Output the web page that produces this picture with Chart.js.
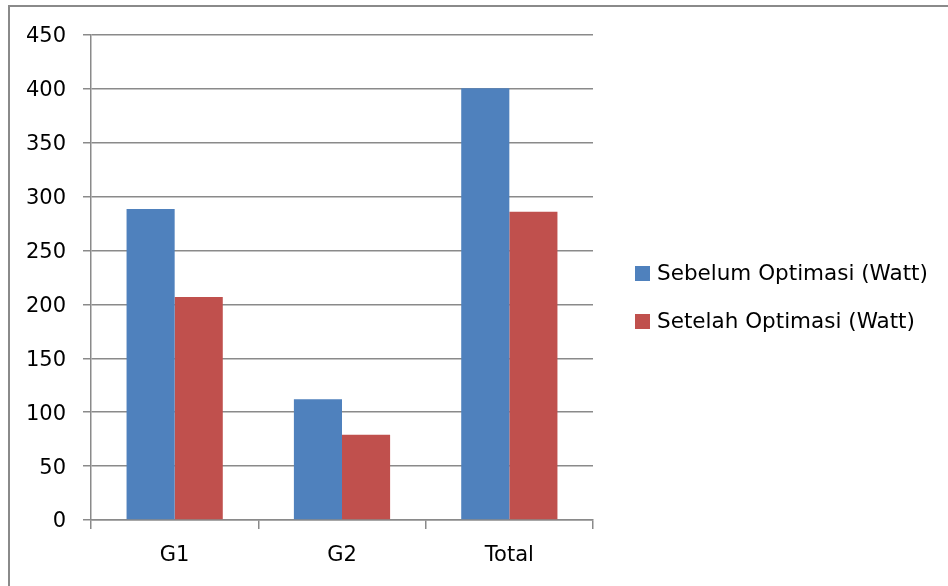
<!DOCTYPE html>
<html>
<head>
<meta charset="utf-8">
<script src="https://cdn.jsdelivr.net/npm/chart.js@4/dist/chart.umd.min.js"></script>
<style>
  html, body { margin: 0; padding: 0; background: #ffffff; }
  #wrap { width: 948px; height: 586px; position: relative; }
</style>
</head>
<body>
<div id="wrap"><canvas id="c" width="948" height="586"></canvas></div>
<script>
// Power consumption per generator, before and after optimisation
const categories = ['G1', 'G2', 'Total'];
const seriesNames = ['Sebelum Optimasi (Watt)', 'Setelah Optimasi (Watt)'];
const sebelum = [288.5, 112, 400.5];
const setelah = [207, 79, 286];
const yTicks = [0, 50, 100, 150, 200, 250, 300, 350, 400, 450];

const colors = ['#4F81BD', '#C0504D'];
const FONT = "'DejaVu Sans', sans-serif";
const FONT_SIZE = 21;
const GRID = '#8a8a8a';

// Outer frame of the chart object
const framePlugin = {
  id: 'frame',
  beforeDraw(chart) {
    const ctx = chart.ctx;
    ctx.save();
    ctx.fillStyle = '#ffffff';
    ctx.fillRect(0, 0, chart.width, chart.height);
    ctx.strokeStyle = GRID;
    ctx.lineWidth = 2;
    ctx.strokeRect(9, 6, 2000, 2000);
    ctx.restore();
  }
};

// Legend drawn to the right of the plot
const sideLegend = {
  id: 'sideLegend',
  afterDraw(chart) {
    const ctx = chart.ctx;
    ctx.save();
    ctx.font = '21.5px ' + FONT;
    ctx.textBaseline = 'middle';
    ctx.textAlign = 'left';
    const rows = [273, 321];
    chart.data.datasets.forEach((ds, i) => {
      ctx.fillStyle = ds.backgroundColor;
      ctx.fillRect(635, rows[i] - 7, 15, 15);
      ctx.fillStyle = '#000000';
      ctx.fillText(ds.label, 657, rows[i] + 1);
    });
    ctx.restore();
  }
};

new Chart(document.getElementById('c'), {
  type: 'bar',
  data: {
    labels: categories,
    datasets: [
      { label: seriesNames[0], data: sebelum, backgroundColor: colors[0] },
      { label: seriesNames[1], data: setelah, backgroundColor: colors[1] }
    ]
  },
  options: {
    responsive: false,
    animation: false,
    devicePixelRatio: 1,
    layout: { padding: { top: 35, right: 355, bottom: 0, left: 0 } },
    datasets: { bar: { categoryPercentage: 0.575, barPercentage: 1.0 } },
    plugins: {
      legend: { display: false },
      tooltip: { enabled: false }
    },
    scales: {
      x: {
        grid: { display: true, drawOnChartArea: false, drawTicks: true, tickLength: 9, color: GRID, lineWidth: 1.5 },
        border: { display: true, color: GRID, width: 1.5 },
        ticks: { color: '#000000', font: { family: FONT, size: FONT_SIZE }, padding: 14 },
        afterFit(scale) { scale.height = 66; }
      },
      y: {
        min: 0,
        max: 450,
        afterBuildTicks(scale) { scale.ticks = yTicks.map(v => ({ value: v })); },
        grid: { color: GRID, lineWidth: 1.5, tickLength: 8 },
        border: { display: true, color: GRID, width: 1.5 },
        ticks: { color: '#000000', font: { family: FONT, size: FONT_SIZE }, padding: 17, labelOffset: 2 },
        afterFit(scale) { scale.width = 91; }
      }
    }
  },
  plugins: [framePlugin, sideLegend]
});
</script>
</body>
</html>
